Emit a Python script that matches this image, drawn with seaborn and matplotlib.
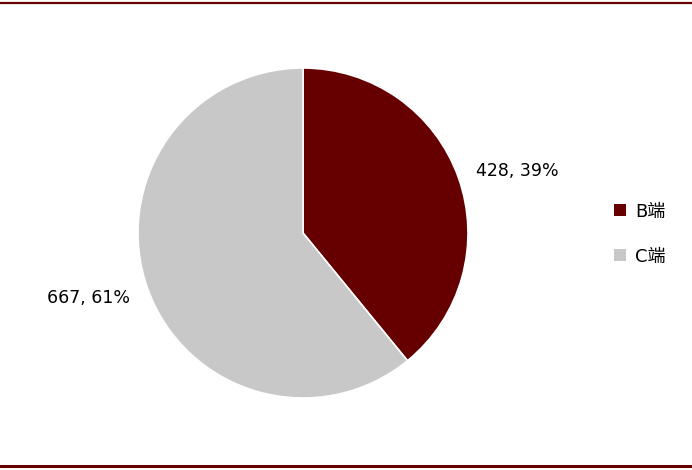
import matplotlib
matplotlib.use("Agg")
import matplotlib.pyplot as plt
import seaborn as sns
from matplotlib.lines import Line2D
from matplotlib.patches import Patch

# 数据
categories = ["B端", "C端"]
values = [428, 667]
colors = ["#660000", "#C8C8C8"]

sns.set_theme(style="white")
plt.rcParams['font.family'] = ['DejaVu Sans', 'Noto Sans CJK SC']

W, H = 692, 470
fig = plt.figure(figsize=(W / 100, H / 100), dpi=100)

# 饼图区域（中心约 303,233，半径约 165 像素）
cx, cy, r = 303, 233, 165
ax = fig.add_axes([(cx - r) / W, (H - cy - r) / H, 2 * r / W, 2 * r / H])
wedges, _ = ax.pie(values, colors=colors, startangle=90, counterclock=False,
                   wedgeprops=dict(edgecolor="white", linewidth=1.2))
ax.set_aspect("equal")
ax.set_xlim(-1, 1)
ax.set_ylim(-1, 1)

total = sum(values)
label_pos = [(1.30, 0.375), (-1.30, -0.395)]
for v, (x, y) in zip(values, label_pos):
    ax.text(x, y, f"{v}, {round(v / total * 100)}%", ha="center", va="center",
            fontsize=12.5, color="black", clip_on=False)

# 图例
handles = [Patch(facecolor=c, edgecolor="none") for c in colors]
fig.legend(handles, categories, loc="center left",
           bbox_to_anchor=(598 / W, 1 - 234 / H), frameon=False,
           fontsize=13, labelcolor="black", handlelength=0.65, handleheight=0.65,
           handletextpad=0.5, labelspacing=1.5)

# 上下边线
fig.add_artist(Line2D([0, 1], [1 - 2.5 / H, 1 - 2.5 / H], color="#660000",
                      linewidth=1.6, transform=fig.transFigure))
fig.add_artist(Line2D([0, 1], [1 - 466 / H, 1 - 466 / H], color="#660000",
                      linewidth=2.2, transform=fig.transFigure))

fig.savefig("out.png", dpi=100, facecolor="white")
